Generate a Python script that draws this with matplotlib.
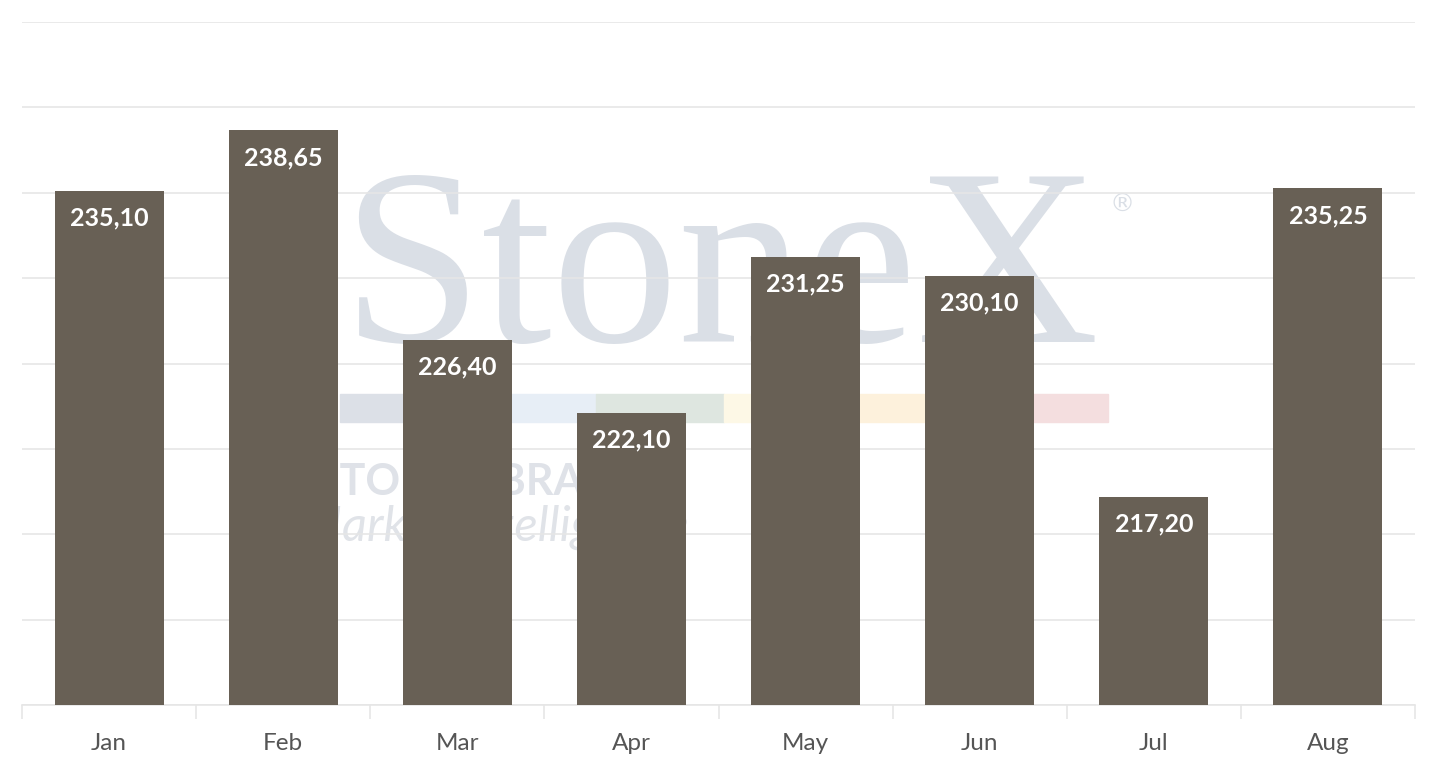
import matplotlib
matplotlib.use("Agg")
import matplotlib.pyplot as plt
from matplotlib.patches import Rectangle

months = ["Jan", "Feb", "Mar", "Apr", "May", "Jun", "Jul", "Aug"]
values = [235.10, 238.65, 226.40, 222.10, 231.25, 230.10, 217.20, 235.25]
labels = ["235,10", "238,65", "226,40", "222,10", "231,25", "230,10", "217,20", "235,25"]

W, H = 1438, 768
fig = plt.figure(figsize=(W / 100, H / 100), dpi=100)
ax = fig.add_axes([22 / W, 1 - 705 / H, (1415 - 22) / W, (705 - 22) / H])
ax.set_zorder(2)

# watermark (behind the axes)
wm = dict(transform=fig.transFigure, zorder=0)
fig.text(720 / W, 1 - 282 / H, "StoneX", family="Liberation Serif", fontsize=182,
         color="#dadfe6", ha="center", va="center", **wm)
fig.text(1122 / W, 1 - 205 / H, "®", fontsize=18, color="#dadfe6", ha="center", va="center", **wm)
strip_cols = ["#dce0e7", "#e7eef6", "#dee6e0", "#fdf8e6", "#fdf1dc", "#f4dedf"]
x0 = 340
for i, c in enumerate(strip_cols):
    fig.patches.append(Rectangle(((x0 + i * 128) / W, 1 - 422 / H), 128 / W, 28 / H,
                                 transform=fig.transFigure, color=c, zorder=0))
fig.text(316 / W, 1 - 482 / H, "STONEX BRASIL", fontsize=31, weight="bold",
         color="#dfe2e8", family="Lato", ha="left", va="center", **wm)
fig.text(300 / W, 1 - 527 / H, "Market Intelligence", fontsize=35, style="italic",
         color="#e0e3e8", family="Lato", ha="left", va="center", **wm)

ax.patch.set_alpha(0)
x = list(range(len(months)))
bars = ax.bar(x, values, width=0.626, color="#686055", zorder=3)
ax.set_ylim(205, 245)
ax.set_xlim(-0.5, len(months) - 0.5)
ax.set_yticks(range(205, 246, 5))
ax.yaxis.grid(True, color="#e6e6e6", lw=1.2, zorder=1)
ax.set_axisbelow(True)
ax.tick_params(axis="y", left=False, labelleft=False)
for s in ["top", "right", "left"]:
    ax.spines[s].set_visible(False)
ax.spines["bottom"].set_color("#e6e6e6")
ax.spines["bottom"].set_linewidth(1.2)

ax.set_xticks(x)
ax.set_xticklabels(months, fontsize=17.5, color="#555555", family="Lato")
ax.tick_params(axis="x", length=0, pad=20)
ax.set_xticks([i - 0.5 for i in range(len(months) + 1)], minor=True)
ax.tick_params(axis="x", which="minor", length=10, color="#e6e6e6", width=1.2)

for b, lab in zip(bars, labels):
    ax.annotate(lab, (b.get_x() + b.get_width() / 2, b.get_height()),
                xytext=(0, -27), textcoords="offset pixels",
                ha="center", va="center", color="white", fontsize=18,
                weight="bold", family="Lato", zorder=4)

fig.savefig("out.png", dpi=100)
